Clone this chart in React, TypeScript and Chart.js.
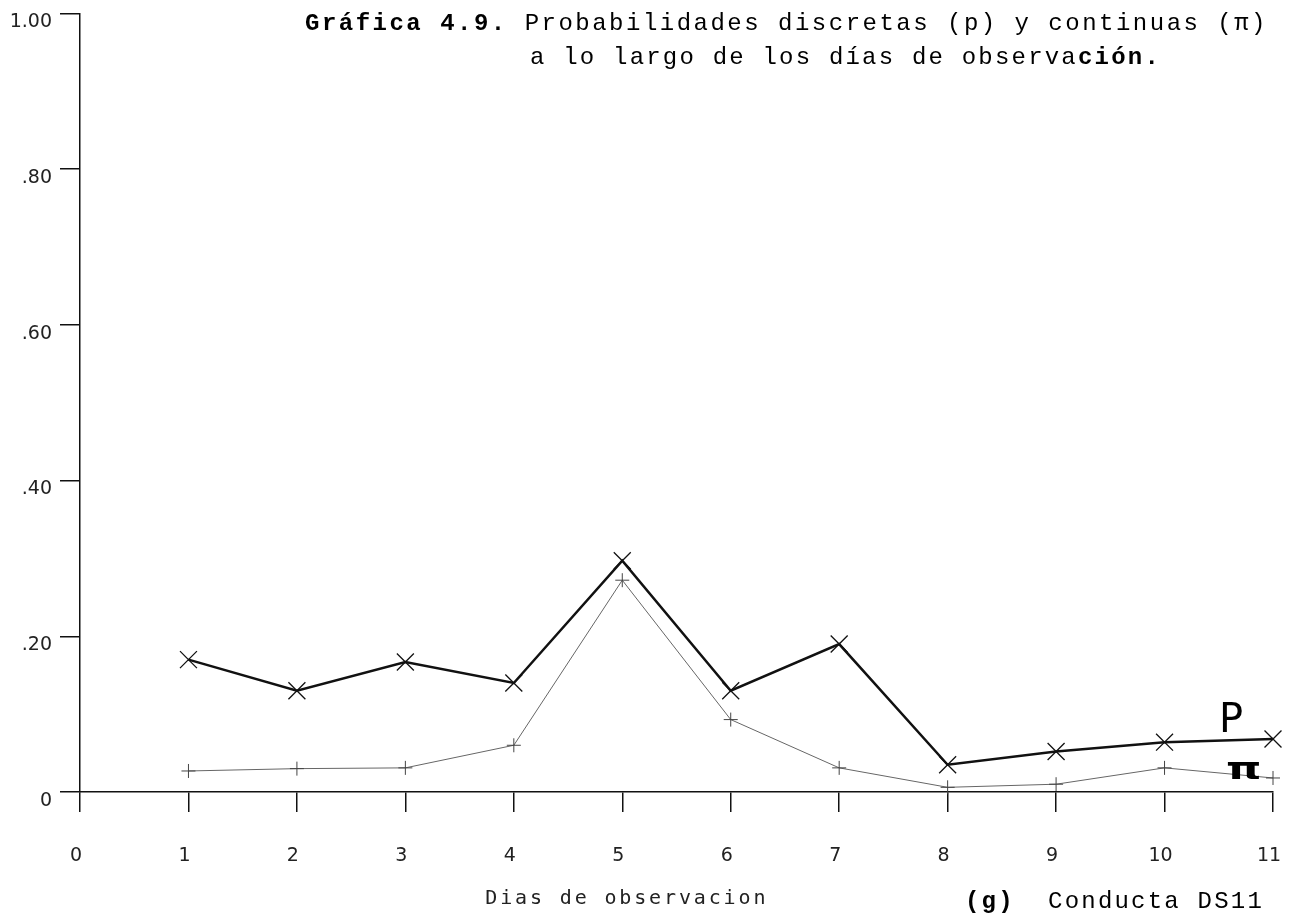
import React, { useEffect, useRef } from "react";
import { Chart, registerables } from "chart.js";

Chart.register(...registerables);

const days = [1, 2, 3, 4, 5, 6, 7, 8, 9, 10, 11];
const pValues = [0.17, 0.13, 0.167, 0.14, 0.297, 0.13, 0.19, 0.035, 0.052, 0.064, 0.068];
const piValues = [0.027, 0.03, 0.031, 0.06, 0.272, 0.093, 0.031, 0.006, 0.01, 0.031, 0.018];
const yTickLabels: Record<number, string> = { 0: "0", 20: ".20", 40: ".40", 60: ".60", 80: ".80", 100: "1.00" };

const titleLine1 = [
  { t: "Gráfica 4.9.", bold: true },
  { t: " Probabilidades discretas (p) y continuas (π)", bold: false },
];
const titleLine2 = [
  { t: "a lo largo de los días de observa", bold: false },
  { t: "ción.", bold: true },
];
const xAxisTitle = "Dias de observacion";
const panelLabel = [
  { t: "(g)", bold: true },
  { t: "  Conducta DS11", bold: false },
];

type Seg = { t: string; bold: boolean };

function drawFit(ctx: CanvasRenderingContext2D, segs: Seg[], x: number, y: number, width: number, size: number, family: string) {
  let natural = 0;
  let n = 0;
  const widths: number[] = [];
  (ctx as any).letterSpacing = "0px";
  for (const s of segs) {
    ctx.font = `${s.bold ? "bold " : ""}${size}px ${family}`;
    const w = ctx.measureText(s.t).width;
    widths.push(w);
    natural += w;
    n += [...s.t].length;
  }
  const sp = (width - natural) / Math.max(1, n);
  let cx = x;
  segs.forEach((s, i) => {
    ctx.font = `${s.bold ? "bold " : ""}${size}px ${family}`;
    (ctx as any).letterSpacing = `${sp}px`;
    ctx.fillText(s.t, cx, y);
    cx += widths[i] + sp * [...s.t].length;
  });
  (ctx as any).letterSpacing = "0px";
}

const textPlugin = {
  id: "texts",
  afterDraw(chart: any) {
    const ctx: CanvasRenderingContext2D = chart.ctx;
    const xs = chart.scales.x;
    ctx.save();
    ctx.fillStyle = "#000";
    ctx.textBaseline = "alphabetic";
    ctx.textAlign = "left";
    const mono = "'Liberation Mono', monospace";
    drawFit(ctx, titleLine1, 305, 30, 963, 24, mono);
    drawFit(ctx, titleLine2, 530, 64, 631, 24, mono);
    drawFit(ctx, panelLabel, 965, 908, 299, 24, mono);
    ctx.fillStyle = "#222";
    const left = xs.getPixelForValue(5) - 137;
    drawFit(ctx, [{ t: xAxisTitle, bold: false }], left, 904, 283, 20, "'DejaVu Sans Mono', monospace");
    ctx.fillStyle = "#000";
    ctx.font = "40px 'DejaVu Sans', sans-serif";
    ctx.fillText("P", 1219, 732);
    ctx.save();
    ctx.translate(1226, 779);
    ctx.scale(1.5, 1);
    ctx.font = "bold 30px 'DejaVu Sans', sans-serif";
    ctx.fillText("π", 0, 0);
    ctx.restore();
    ctx.restore();
  },
};

export default function App() {
  const ref = useRef<HTMLCanvasElement>(null);
  useEffect(() => {
    const tickFont = { family: "'DejaVu Sans', sans-serif", size: 19 };
    const chart = new Chart(ref.current!, {
      type: "line",
      data: {
        datasets: [
          {
            label: "P",
            data: days.map((d, i) => ({ x: d, y: pValues[i] })),
            borderColor: "#111",
            borderWidth: 2.5,
            pointStyle: "crossRot",
            pointRadius: 12,
            pointBorderWidth: 1.3,
            pointBorderColor: "#111",
            pointBackgroundColor: "#111",
            tension: 0,
            clip: false as any,
          },
          {
            label: "π",
            data: days.map((d, i) => ({ x: d, y: piValues[i] })),
            borderColor: "#666",
            borderWidth: 1,
            pointStyle: "cross",
            pointRadius: 7,
            pointBorderWidth: 1,
            pointBorderColor: "#444",
            tension: 0,
            clip: false as any,
          },
        ],
      },
      options: {
        animation: false,
        responsive: false,
        layout: { padding: { top: 6, right: 24, left: 0, bottom: 0 } },
        plugins: { legend: { display: false }, tooltip: { enabled: false } },
        scales: {
          x: {
            type: "linear",
            min: 0,
            max: 11,
            ticks: {
              stepSize: 1,
              autoSkip: false,
              maxRotation: 0,
              color: "#222",
              font: tickFont,
              padding: 33,
              labelOffset: -4,
            },
            grid: { drawOnChartArea: false, drawTicks: true, tickLength: 20, color: "#111", lineWidth: 1.5 },
            border: { color: "#111", width: 1.5 },
            afterFit: (s: any) => {
              s.height = 922 - 792;
              s.paddingLeft = 0;
              s.paddingRight = 0;
            },
          },
          y: {
            min: 0,
            max: 1,
            ticks: {
              stepSize: 0.2,
              color: "#222",
              font: tickFont,
              padding: 8,
              labelOffset: 9,
              callback: (v: any) => yTickLabels[Math.round(Number(v) * 100)] ?? "",
            },
            grid: { drawOnChartArea: false, drawTicks: true, tickLength: 20, color: "#111", lineWidth: 1.5 },
            border: { color: "#111", width: 1.5 },
            afterFit: (s: any) => {
              s.width = 80;
              s.paddingTop = 0;
              s.paddingBottom = 0;
            },
          },
        },
      },
      plugins: [textPlugin],
    });
    return () => chart.destroy();
  }, []);
  return (
    <div style={{ position: "fixed", left: 0, top: 0, width: 1297, height: 922, background: "#fff" }}>
      <canvas ref={ref} width={1297} height={922} />
    </div>
  );
}
